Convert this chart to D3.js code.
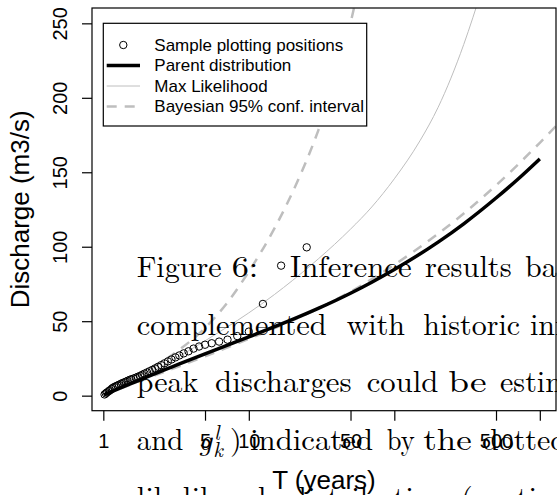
<!DOCTYPE html>
<html>
<head>
<meta charset="utf-8">
<script src="https://cdn.jsdelivr.net/npm/d3@7"></script>
<style>
  body { margin: 0; background: #fff; }
  svg { display: block; }
</style>
</head>
<body>
<div id="chart"></div>
<script>
  var width = 557,
  height = 495;

  // sample plotting positions: return period (years) and discharge (m3/s)
  var sampleT = [25, 16.67, 12.5, 10, 8.33, 7.14, 6.25, 5.56, 5, 4.55, 4.17, 3.85, 3.57, 3.33, 3.13, 2.94, 2.78, 2.63, 2.5, 2.38,
                 2.27, 2.17, 2.08, 2, 1.92, 1.85, 1.79, 1.72, 1.67, 1.61, 1.56, 1.52, 1.47, 1.43, 1.39, 1.35, 1.32, 1.28, 1.25, 1.22,
                 1.19, 1.16, 1.14, 1.11, 1.09, 1.06, 1.04, 1.02];
  var sampleQ = [99.6, 87.3, 61.6, 43, 40, 37.6, 36.3, 35.2, 34.2, 33.0, 31.6, 29.8, 28.4, 27.0, 25.7, 24.3, 23.0, 21.7, 20.5, 19.4,
                 18.3, 17.3, 16.4, 15.6, 14.8, 14.0, 13.3, 12.6, 12.0, 11.5, 11.0, 10.6, 10.0, 9.4, 8.9, 8.4, 7.9, 7.3, 6.8, 6.3,
                 5.8, 5.2, 4.5, 3.6, 3.0, 2.2, 1.5, 0.8];

  // parent distribution
  var parentT = [1.01, 1.5, 2, 3, 5, 7, 10, 20, 30, 50, 70, 100, 200, 300, 500, 700, 1000];
  var parentQ = [0.5, 7.5, 12.6, 19.5, 28.1, 33.6, 39.5, 51.2, 58.6, 68.8, 76.2, 84.7, 103.1, 115.4, 132.7, 145, 159];

  // max likelihood fit
  var mlT = [1.01, 1.5, 2, 3, 5, 7, 10, 15, 20, 30, 50, 70, 100, 150, 200, 300, 400];
  var mlQ = [0.5, 8.1, 14.4, 23.9, 36.8, 45.7, 55.6, 67.9, 77.4, 91.8, 111.8, 126.7, 145.6, 171.1, 193.6, 235.8, 272.8];

  // bayesian 95% interval, upper and lower bounds
  var upperT = [1.01, 1.5, 2, 3, 5, 7, 10, 15, 20, 30, 40, 50, 60];
  var upperQ = [1, 9.9, 16.8, 27.7, 45.5, 61.6, 83.3, 112.3, 136.7, 178, 214.3, 250.2, 285];
  var lowerT = [1.01, 1.5, 2, 3, 5, 10, 20, 30, 50, 100, 200, 300, 500, 1000, 1300];
  var lowerQ = [0.5, 7.0, 11.6, 18.1, 26.4, 38.1, 50.6, 58.5, 69.8, 87.9, 108.7, 122.3, 141.2, 169.8, 181.3];

  var xTicks = [1, 5, 10, 50, 100, 500, 1000];
  var xLabels = [1, 5, 10, 50, 500];   // R drops the labels that would collide
  var yTicks = [0, 50, 100, 150, 200, 250];

  var legendLabels = ["Sample plotting positions", "Parent distribution", "Max Likelihood", "Bayesian 95% conf. interval"];

  // caption of the page that the figure sits on (bleeds over the plot)
  var captionLines = [
    ["Figure", "6:", "Inference", "results", "based"],
    ["complemented", "with", "historic", "information"],
    ["peak", "discharges", "could", "be", "estimated"],
    ["and", "", ")", "indicated", "by", "the", "dotted"],
    ["likelihood", "distribution", "(continuous"]
  ];

  var sans = "'Liberation Sans', Arial, Helvetica, sans-serif",
      serif = "'Latin Modern Roman', 'CMU Serif', 'Liberation Serif', 'Times New Roman', serif",
      lightGrey = "#bebebe";

  var svg = d3.select("#chart").append("svg")
      .attr("width", width)
      .attr("height", height);

  // plot region (usr coords like R)
  var x = d3.scaleLog()
      .domain([0.836, 1292])
      .range([92, 556]);

  var y = d3.scaleLinear()
      .domain([-10.1, 260.3])
      .range([410.7, 8]);

  var x0 = x.range()[0], x1 = x.range()[1],
      yTop = y.range()[1], yBot = y.range()[0];

  svg.append("clipPath")
      .attr("id", "plotclip")
    .append("rect")
      .attr("x", x0)
      .attr("y", yTop)
      .attr("width", x1 - x0)
      .attr("height", yBot - yTop);

  var line = d3.line()
      .x(function(d) { return x(d[0]); })
      .y(function(d) { return y(d[1]); })
      .curve(d3.curveMonotoneX);

  var zip = function(a, b) { return a.map(function(v, i) { return [v, b[i]]; }); };

  var plot = svg.append("g").attr("clip-path", "url(#plotclip)");

  plot.append("path")
      .attr("d", line(zip(mlT, mlQ)))
      .attr("fill", "none")
      .attr("stroke", lightGrey)
      .attr("stroke-width", 1);

  [zip(upperT, upperQ), zip(lowerT, lowerQ)].forEach(function(s) {
    plot.append("path")
        .attr("d", line(s))
        .attr("fill", "none")
        .attr("stroke", lightGrey)
        .attr("stroke-width", 2.5)
        .attr("stroke-dasharray", "10,8");
  });

  plot.append("path")
      .attr("d", line(zip(parentT, parentQ)))
      .attr("fill", "none")
      .attr("stroke", "#000")
      .attr("stroke-width", 3.5)
      .attr("stroke-linejoin", "round");

  plot.selectAll("circle")
    .data(zip(sampleT, sampleQ))
    .enter().append("circle")
      .attr("cx", function(d) { return x(d[0]); })
      .attr("cy", function(d) { return y(d[1]); })
      .attr("r", 3.7)
      .attr("fill", "none")
      .attr("stroke", "#000")
      .attr("stroke-width", 1);

  // box
  svg.append("rect")
      .attr("x", x0)
      .attr("y", yTop)
      .attr("width", x1 - x0)
      .attr("height", yBot - yTop)
      .attr("fill", "none")
      .attr("stroke", "#000")
      .attr("stroke-width", 1.2);

  // axes
  var xAxis = svg.append("g")
      .attr("transform", "translate(0," + yBot + ")")
      .call(d3.axisBottom(x)
        .tickValues(xTicks)
        .tickSize(10)
        .tickFormat(function(d) { return xLabels.indexOf(d) >= 0 ? d : ""; }));
  xAxis.select(".domain").remove();
  xAxis.selectAll("line").attr("stroke", "#000").attr("stroke-width", 1.2);
  xAxis.selectAll("text")
      .attr("y", 37.3)
      .attr("dy", null)
      .attr("fill", "#000")
      .style("font-family", sans)
      .style("font-size", "20px");

  var yAxis = svg.append("g")
      .attr("transform", "translate(" + x0 + ",0)")
      .call(d3.axisLeft(y).tickValues(yTicks).tickSize(10));
  yAxis.select(".domain").remove();
  yAxis.selectAll("line").attr("stroke", "#000").attr("stroke-width", 1.2);
  yAxis.selectAll("text")
      .attr("x", 0)
      .attr("dy", null)
      .attr("transform", "translate(-25.3,0) rotate(-90)")
      .attr("text-anchor", "middle")
      .attr("fill", "#000")
      .style("font-family", sans)
      .style("font-size", "20px");

  svg.append("text")
      .attr("x", (x0 + x1) / 2)
      .attr("y", 488.5)
      .attr("text-anchor", "middle")
      .style("font-family", sans)
      .style("font-size", "26px")
      .text("T (years)");

  svg.append("text")
      .attr("transform", "translate(28.5," + ((yTop + yBot) / 2) + ") rotate(-90)")
      .attr("text-anchor", "middle")
      .style("font-family", sans)
      .style("font-size", "26px")
      .text("Discharge (m3/s)");

  // legend
  var lg = svg.append("g").attr("transform", "translate(103.3,23.3)");
  lg.append("rect")
      .attr("width", 263.4)
      .attr("height", 102.7)
      .attr("fill", "#fff")
      .attr("stroke", "#000")
      .attr("stroke-width", 1.2);

  var rows = lg.selectAll("g.row")
    .data(legendLabels)
    .enter().append("g")
      .attr("class", "row")
      .attr("transform", function(d, i) { return "translate(0," + (21.7 + i * 20.5) + ")"; });

  rows.append("text")
      .attr("x", 51)
      .attr("dy", "0.35em")
      .style("font-family", sans)
      .style("font-size", "17px")
      .text(function(d) { return d; });

  rows.filter(function(d, i) { return i === 0; }).append("circle")
      .attr("cx", 20)
      .attr("r", 3.7)
      .attr("fill", "none")
      .attr("stroke", "#000");

  rows.filter(function(d, i) { return i > 0; }).append("line")
      .attr("x1", 3.4)
      .attr("x2", 36.7)
      .attr("stroke", function(d, i) { return i === 0 ? "#000" : lightGrey; })
      .attr("stroke-width", function(d, i) { return i === 0 ? 3.5 : (i === 1 ? 1 : 2.5); })
      .attr("stroke-dasharray", function(d, i) { return i === 2 ? "10,8" : null; });

  // caption words: start x and measured width of each word on the page
  var wordX = [
    [136.7, 231.7, 290, 425, 525],
    [136.7, 346.7, 423.3, 530],
    [136.7, 215, 366.7, 448.3, 500],
    [136.7, 198.3, 230, 250, 386.7, 423.3, 482],
    [136.7, 290, 461]
  ];
  var wordW = [
    [85, 26.6, 121.7, 86.7, 0],
    [190, 58.3, 96.7, 0],
    [61.6, 136.7, 71.6, 38.4, 0],
    [46.6, 0, 0, 123, 28, 48.4, 0],
    [130, 156, 0]
  ];
  var baselines = [276.7, 334.5, 392.3, 450.1, 507.5];

  var cap = svg.append("g")
      .style("font-family", serif)
      .style("font-size", "30px")
      .attr("fill", "#000");

  captionLines.forEach(function(words, li) {
    words.forEach(function(w, wi) {
      if (!w) return;
      var t = cap.append("text")
          .attr("x", wordX[li][wi])
          .attr("y", baselines[li])
          .text(w);
      if (wordW[li][wi]) t.attr("textLength", wordW[li][wi]).attr("lengthAdjust", "spacingAndGlyphs");
    });
  });

  // the g^l_k symbol on line four
  var gx = wordX[3][1], gy = baselines[3];
  cap.append("text").attr("x", gx).attr("y", gy).style("font-style", "italic").text("g");
  cap.append("text").attr("x", gx + 16).attr("y", gy - 10).style("font-style", "italic").style("font-size", "21px").text("l");
  cap.append("text").attr("x", gx + 15).attr("y", gy + 7).style("font-style", "italic").style("font-size", "21px").text("k");
</script>
</body>
</html>
